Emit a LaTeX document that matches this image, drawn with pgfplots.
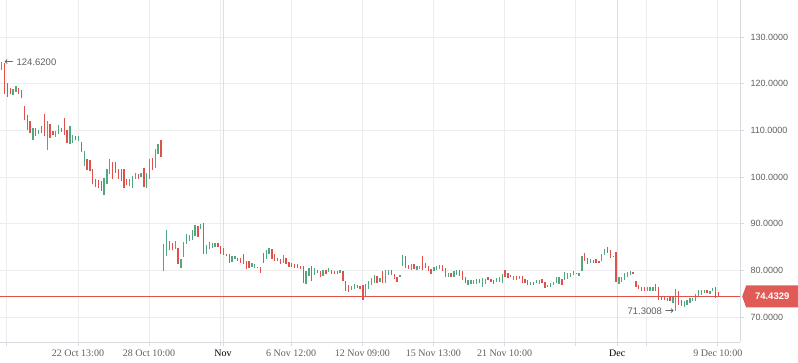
\documentclass[border=0pt]{standalone}
\usepackage{fontspec}
\setmainfont{Liberation Serif}
\newfontfamily\sansf{Liberation Sans}
\newfontfamily\symf{DejaVu Sans}
\usepackage{pgfplots}
\pgfplotsset{compat=1.18}
\usepackage{pgfplotstable}
\usetikzlibrary{shapes.symbols}
\definecolor{cgreen}{HTML}{53A77F}
\definecolor{cred}{HTML}{E0514B}
\definecolor{ctag}{HTML}{E05A56}
\definecolor{cgrid}{HTML}{EDEDED}
\definecolor{cmonth}{HTML}{DCE0E5}
\definecolor{caxis}{HTML}{D5DBE1}
\definecolor{ctext}{HTML}{5F5F5F}

\pgfplotstableread{
x lo hi
0 122.9 124.62
4 117.57 118.79
5 118.29 119.5
11 107.86 110.43
13 109.14 110.21
16 105.86 112.0
19 108.64 109.86
20 109.29 111.07
24 107.0 110.93
25 107.36 109.0
27 107.71 108.79
29 102.36 105.57
36 96.07 99.86
37 98.43 101.64
38 100.57 103.79
45 98.07 99.5
46 97.71 100.21
47 99.5 100.93
49 100.0 100.93
51 97.71 100.93
52 99.71 103.79
54 102.0 106.07
55 104.86 107.0
57 79.86 85.57
58 83.07 88.64
61 84.5 86.29
63 80.57 82.5
64 82.93 86.07
65 85.57 87.86
66 86.29 87.71
67 86.64 88.64
68 87.36 89.71
70 88.79 89.86
72 83.57 85.36
73 84.5 86.07
74 84.86 85.79
75 85.0 85.79
81 81.79 83.07
82 82.36 83.07
88 80.71 81.64
89 80.57 81.43
93 82.36 84.29
94 83.43 84.86
99 81.64 83.29
107 77.14 79.86
108 78.79 80.57
110 79.14 80.43
113 78.79 80.0
115 79.64 80.43
119 79.5 80.0
123 75.79 76.64
124 76.14 77.0
128 74.5 77.0
129 76.0 77.71
130 76.86 78.43
131 77.36 79.14
133 77.64 78.36
135 77.29 80.14
136 79.07 80.0
140 78.57 79.07
141 80.86 83.36
144 80.14 81.43
146 80.14 81.0
147 80.29 81.0
152 79.79 80.71
153 80.14 81.0
154 80.29 81.14
157 78.71 79.57
159 78.71 79.79
160 79.07 80.0
164 76.79 77.86
165 77.07 77.86
166 77.14 77.86
167 77.14 78.14
169 76.43 78.36
170 77.14 78.14
174 77.43 78.36
175 77.64 78.71
176 77.29 79.29
180 78.0 78.86
182 78.14 78.86
186 76.93 77.64
188 77.29 77.86
189 77.14 78.0
192 76.36 76.93
193 76.57 77.29
194 76.93 77.64
195 77.29 78.57
196 77.14 78.71
198 77.86 79.71
199 78.14 79.43
200 78.57 79.57
201 79.07 79.79
203 78.86 79.43
204 79.79 83.14
207 81.57 82.43
211 82.14 83.57
212 83.36 84.57
217 77.14 78.57
218 77.43 78.71
219 78.0 79.43
220 78.57 79.64
221 79.07 79.79
227 75.5 76.57
228 75.5 76.43
229 75.64 76.43
236 73.14 74.43
237 71.30 76.0
240 72.14 73.36
241 72.64 73.71
242 73.0 74.07
243 73.36 74.21
244 73.36 75.0
245 74.57 75.86
246 74.79 75.86
247 75.14 75.86
249 75.0 75.71
250 75.5 76.21
}\greendata

\pgfplotstableread{
x lo hi
1 117.86 124.5
2 117.14 120.21
3 117.71 119.14
6 117.86 119.14
7 116.86 118.64
8 112.21 115.21
9 110.21 113.29
10 109.43 112.0
12 108.79 110.43
14 109.5 110.93
15 108.79 113.43
17 108.43 111.29
18 109.0 109.86
21 109.71 110.57
22 109.0 112.57
23 107.36 110.0
26 107.86 108.79
28 105.43 107.57
30 101.43 103.93
31 101.29 103.64
32 98.43 101.79
33 97.86 99.64
34 97.57 99.36
35 97.14 99.14
39 99.5 103.29
40 100.93 103.29
41 99.5 101.79
42 99.14 101.79
43 97.71 101.64
44 98.29 99.71
48 99.5 100.71
50 97.93 101.86
53 101.43 104.0
56 104.36 107.93
59 84.29 86.29
60 84.29 85.79
62 81.43 84.86
69 87.21 89.5
71 83.57 90.14
76 85.0 85.79
77 83.64 85.21
78 83.29 84.86
79 83.07 83.64
80 81.64 83.43
83 82.0 82.71
84 81.64 82.71
85 81.43 83.43
86 80.36 82.0
87 80.57 82.0
90 80.43 80.71
91 79.5 80.71
92 81.64 83.79
95 82.57 84.64
96 82.14 83.43
97 82.0 82.71
98 81.43 82.36
100 81.43 82.71
101 80.71 81.86
102 80.71 81.64
103 80.57 81.43
104 80.57 81.29
105 80.36 81.07
106 77.36 80.93
109 77.71 80.93
111 79.5 80.21
112 78.64 79.86
114 79.29 80.0
116 79.29 80.21
117 79.29 79.86
118 79.29 79.86
120 77.71 79.86
121 75.57 77.71
122 75.43 76.86
125 76.29 76.86
126 76.14 76.64
127 73.64 76.86
132 77.36 78.79
134 77.29 79.79
137 79.07 80.14
138 78.14 79.29
139 77.64 78.71
142 80.5 83.0
143 80.29 81.21
145 80.29 81.43
148 80.0 83.21
149 80.5 81.57
150 79.79 81.0
151 79.21 80.29
155 79.79 81.21
156 78.71 80.5
158 78.71 79.57
161 78.86 80.0
162 77.86 79.93
163 77.29 78.5
168 77.29 78.14
171 77.86 78.5
172 77.43 78.14
173 77.14 78.0
177 78.71 80.14
178 78.36 79.43
179 78.57 79.07
181 77.86 78.86
183 77.29 78.86
184 77.29 78.14
185 76.93 77.86
187 76.93 77.64
190 77.29 78.14
191 76.21 77.64
197 76.93 78.14
202 79.29 79.57
205 82.14 83.71
206 81.43 82.64
208 81.57 82.29
209 81.71 82.43
210 81.71 82.14
213 83.8 85.1
214 82.64 84.43
215 82.86 83.14
216 77.64 83.86
222 79.29 79.64
223 76.43 77.79
224 76.0 76.93
225 75.71 76.57
226 75.5 76.43
230 75.5 77.14
231 73.71 76.57
232 73.71 74.43
233 73.71 74.29
234 73.57 74.21
235 73.57 74.29
238 72.64 75.5
239 72.43 73.71
248 75.14 75.86
251 74.07 76.43
252 74.43 75.29
}\reddata

\begin{document}
\begin{tikzpicture}
\path[use as bounding box] (0pt,0pt) rectangle (798pt,363pt);
\begin{axis}[
  at={(0pt,21pt)}, anchor=south west, scale only axis,
  width=740pt, height=342pt,
  xmin=-0.6, xmax=259.6, ymin=64.68, ymax=137.96,
  clip=false,
  axis x line*=bottom, axis y line*=right,
  axis line style={caxis, line width=0.8pt},
  tick align=outside, major tick length=4pt,
  tick style={caxis, line width=0.8pt},
  grid=major, grid style={cgrid, line width=0.8pt},
  ytick={70,80,...,130},
  y tick label style={/pgf/number format/fixed, /pgf/number format/fixed zerofill, /pgf/number format/precision=4, /pgf/number format/assume math mode=true},
  yticklabel style={font=\sansf\fontsize{9}{10}\selectfont, text=ctext, xshift=3pt},
  xtick={1.8,26.8,51.8,76.8,101.8,126.8,151.8,176.8,201.8,226.8,251.8},
  xticklabels={,22 Oct 13:00,28 Oct 10:00,,6 Nov 12:00,12 Nov 09:00,15 Nov 13:00,21 Nov 10:00,,,9 Dec 10:00},
  xticklabel style={font=\rmfamily\fontsize{10}{12}\selectfont, text=ctext},
  extra x ticks={77.8,216.4},
  extra x tick labels={Nov,Dec},
  extra x tick style={grid style={cmonth, line width=0.9pt}, xticklabel style={text=black}},
]
\addplot[draw=none, mark=none, forget plot, error bars/.cd, y dir=plus, y explicit, error mark=none,
  error bar style={draw=cgreen, line width=1.3pt, solid}]
  table[x=x, y=lo, y error expr=\thisrow{hi}-\thisrow{lo}] {\greendata};
\addplot[draw=none, mark=none, forget plot, error bars/.cd, y dir=plus, y explicit, error mark=none,
  error bar style={draw=cred, line width=1.3pt, solid}]
  table[x=x, y=lo, y error expr=\thisrow{hi}-\thisrow{lo}] {\reddata};
\addplot[color=cred, draw=cred, solid, mark=none, line width=0.9pt, forget plot]
  coordinates {(-0.6,74.4329) (259.6,74.4329)};
\node[signal, signal to=west, signal pointer angle=140, fill=ctag, text=white,
  font=\sansf\bfseries\fontsize{9.5}{10}\selectfont, minimum height=22pt, minimum width=56pt,
  inner xsep=2pt, anchor=west] at (axis cs:260.3,74.4329) {74.4329};
\node[anchor=west, font=\sansf\fontsize{9.5}{10}\selectfont, text=ctext, inner sep=0pt]
  at (axis cs:0.9,124.62) {{\symf\fontsize{11}{11}\selectfont ←}\hspace{3pt}124.6200};
\node[anchor=east, font=\sansf\fontsize{9.5}{10}\selectfont, text=ctext, inner sep=0pt]
  at (axis cs:236.5,71.25) {71.3008\hspace{3pt}{\symf\fontsize{11}{11}\selectfont →}};
\end{axis}
\end{tikzpicture}
\end{document}
